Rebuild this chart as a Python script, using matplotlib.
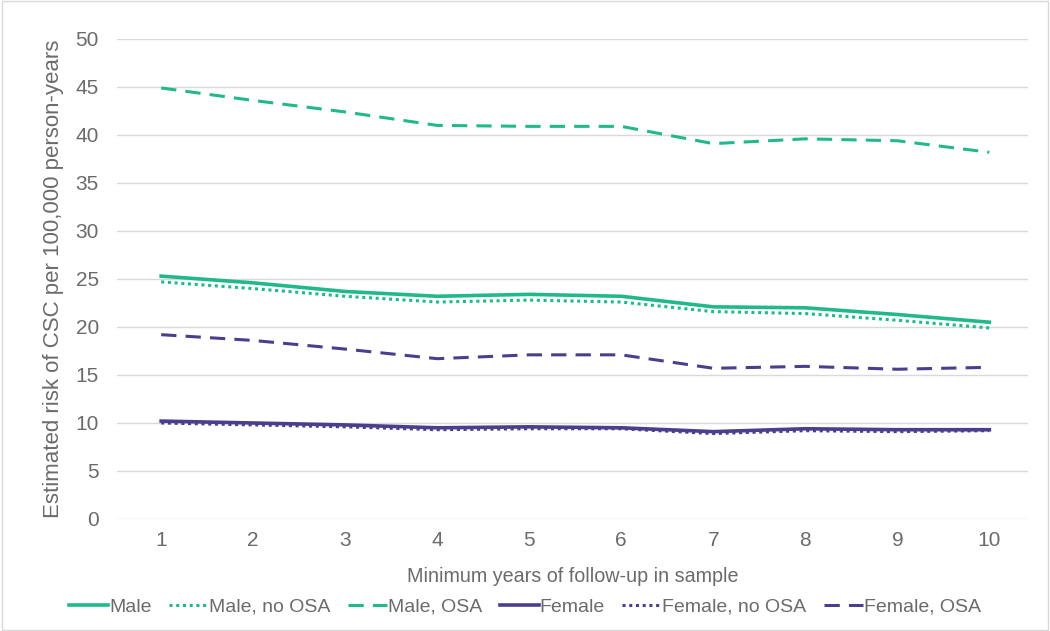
import numpy as np
import matplotlib.pyplot as plt
from matplotlib.patches import Rectangle

plt.rcParams['font.family'] = ['Liberation Sans', 'DejaVu Sans']

years = [1, 2, 3, 4, 5, 6, 7, 8, 9, 10]
male = [25.3, 24.6, 23.7, 23.2, 23.4, 23.2, 22.1, 22.0, 21.3, 20.5]
male_no_osa = [24.7, 24.0, 23.2, 22.6, 22.8, 22.6, 21.6, 21.4, 20.7, 19.9]
male_osa = [44.9, 43.6, 42.4, 41.0, 40.9, 40.9, 39.1, 39.6, 39.4, 38.2]
female = [10.2, 10.0, 9.8, 9.5, 9.6, 9.5, 9.1, 9.4, 9.3, 9.3]
female_no_osa = [10.0, 9.8, 9.6, 9.3, 9.4, 9.4, 8.9, 9.2, 9.1, 9.2]
female_osa = [19.2, 18.6, 17.7, 16.7, 17.1, 17.1, 15.7, 15.9, 15.6, 15.8]

green = '#22b98a'
purple = '#4a3f8c'
grey = '#6b6b6b'

fig = plt.figure(figsize=(10.5, 6.31), dpi=100)
ax = fig.add_axes([117 / 1050, 1 - 519 / 631, 911 / 1050, 480 / 631])

ax.plot(years, male, color=green, lw=2.6, label='Male')
ax.plot(years, male_no_osa, color=green, lw=2.2, ls=(0, (1, 1.2)), label='Male, no OSA')
ax.plot(years, male_osa, color=green, lw=2.2, ls=(0, (5, 3)), label='Male, OSA')
ax.plot(years, female, color=purple, lw=2.6, label='Female')
ax.plot(years, female_no_osa, color=purple, lw=2.2, ls=(0, (1, 1.2)), label='Female, no OSA')
ax.plot(years, female_osa, color=purple, lw=2.2, ls=(0, (5, 3)), label='Female, OSA')

ax.set_xlim(0.52, 10.42)
ax.set_ylim(0, 50)
ax.set_xticks(years)
ax.set_yticks(np.arange(0, 51, 5))
ax.yaxis.grid(True, color='#d9d9d9', lw=1)
ax.set_axisbelow(True)
for s in ax.spines.values():
    s.set_visible(False)
ax.tick_params(length=0, labelsize=15, colors=grey, pad=9)
ax.tick_params(axis='y', pad=13)

ax.set_xlabel('Minimum years of follow-up in sample', fontsize=14.2, color=grey, labelpad=12)
ax.set_ylabel('Estimated risk of CSC per 100,000 person-years', fontsize=16, color=grey, labelpad=8)

leg = fig.legend(loc='center', bbox_to_anchor=(0.5, 1 - 607 / 631), ncol=6, frameon=False,
                 fontsize=14, handlelength=2.0, handletextpad=0.05, columnspacing=0.9)
for t in leg.get_texts():
    t.set_color(grey)

fig.patches.append(Rectangle((0.002, 0.002), 0.996, 0.996, transform=fig.transFigure,
                             fill=False, edgecolor='#d9d9d9', lw=1))

fig.savefig('out.png', dpi=100)
